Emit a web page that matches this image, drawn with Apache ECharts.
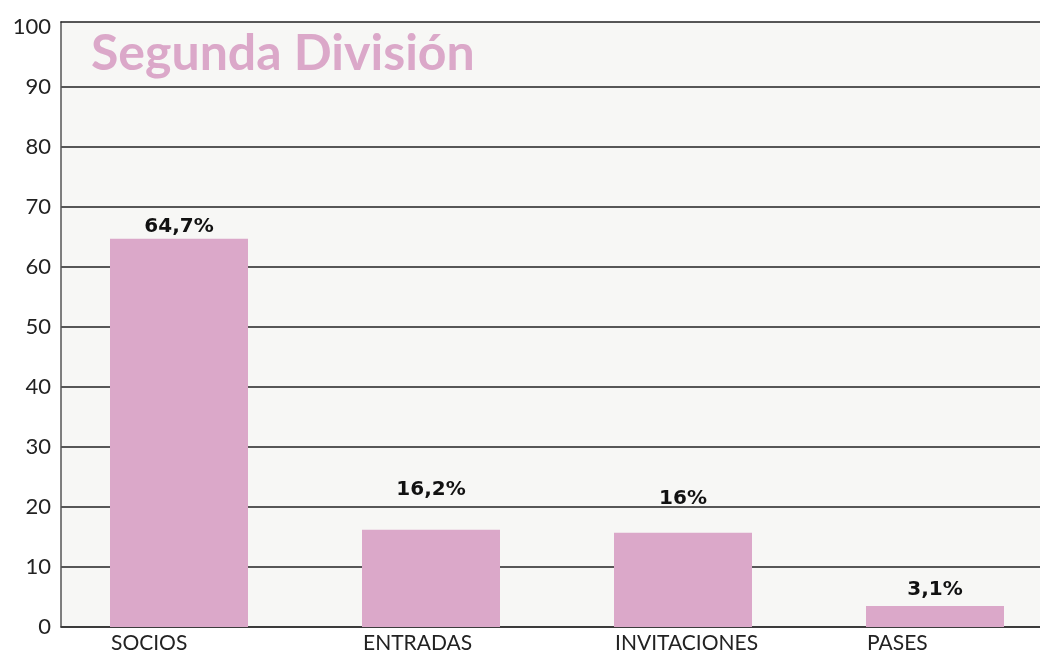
<!DOCTYPE html>
<html><head><meta charset="utf-8">
<script src="https://cdn.jsdelivr.net/npm/echarts@6/dist/echarts.min.js"></script>
<style>html,body{margin:0;padding:0;background:#fff}#c{width:1040px;height:652px}</style>
</head><body><div id="c"></div>
<script>
const titleText = 'Segunda División';
const categories = ['SOCIOS', 'ENTRADAS', 'INVITACIONES', 'PASES'];
const values = [64.7, 16.2, 15.7, 3.5];
const valueLabels = ['64,7%', '16,2%', '16%', '3,1%'];
const yTicks = [0, 10, 20, 30, 40, 50, 60, 70, 80, 90, 100];

const labelDistances = [2, 30, 24, 6];
const FONT = 'Lato, "Open Sans", sans-serif';
const PINK = '#dba8c9';

const chart = echarts.init(document.getElementById('c'));
chart.setOption({
  animation: false,
  backgroundColor: '#ffffff',
  title: {
    text: titleText, left: 86, top: 24,
    textStyle: { fontFamily: FONT, fontSize: 50, fontWeight: 'bold', color: PINK }
  },
  grid: [
    { left: 61, right: 0, top: 22, bottom: 25, show: true, backgroundColor: '#f7f7f5', borderWidth: 0 },
    { left: 61, right: 0, top: 27, bottom: 25 },
    { left: 53, width: 1008, top: 27, bottom: 25, outerBoundsMode: 'none', containLabel: false }
  ],
  xAxis: [
    { type: 'category', gridIndex: 0, position: 'top', data: categories,
      axisLine: { onZero: false, lineStyle: { color: '#222', width: 1.5 } },
      axisTick: { show: false }, axisLabel: { show: false }, splitLine: { show: false } },
    { type: 'category', gridIndex: 1, data: categories,
      axisLine: { onZero: false, lineStyle: { color: '#333', width: 1.5 } },
      axisTick: { show: false }, axisLabel: { show: false }, splitLine: { show: false } },
    { type: 'category', gridIndex: 2, data: categories,
      axisLine: { show: false }, axisTick: { show: false }, splitLine: { show: false },
      axisLabel: { align: 'left', padding: [0, 0, 0, -68], margin: 6,
        fontFamily: FONT, fontSize: 21, color: '#222' } }
  ],
  yAxis: [
    { type: 'value', gridIndex: 0, min: 0, max: 100,
      axisLine: { show: true, onZero: false, lineStyle: { color: '#555', width: 1.5 } },
      axisTick: { show: false }, axisLabel: { show: false }, splitLine: { show: false } },
    { type: 'value', gridIndex: 1, min: 0, max: 100, interval: 10,
      axisLine: { show: false },
      axisTick: { show: false },
      axisLabel: { margin: 10, fontFamily: FONT, fontSize: 22, color: '#222',
        formatter: v => yTicks.includes(v) ? String(v) : '' },
      splitLine: { show: true, showMaxLine: false, lineStyle: { color: '#222', width: 1.5 } } },
    { type: 'value', gridIndex: 2, min: 0, max: 100, interval: 10, show: false }
  ],
  series: [{
    type: 'bar', xAxisIndex: 2, yAxisIndex: 2, barWidth: 138,
    itemStyle: { color: PINK },
    data: values.map((v, i) => ({
      value: v,
      label: { distance: labelDistances[i] }
    })),
    label: {
      show: true, position: 'top',
      fontFamily: '"DejaVu Sans", sans-serif', fontSize: 20, fontWeight: 'bold', color: '#111',
      formatter: p => valueLabels[p.dataIndex]
    }
  }]
});
</script></body></html>
